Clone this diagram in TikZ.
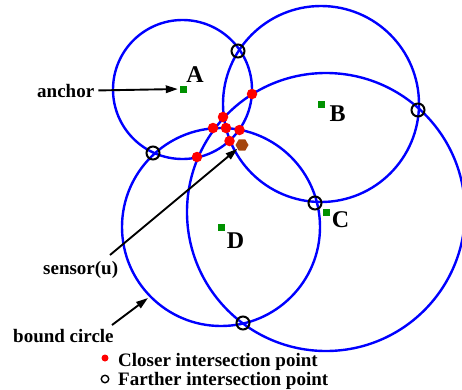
\documentclass[tikz,border=0pt]{standalone}
\usepackage{fontspec}
\setmainfont{Liberation Serif}
\usetikzlibrary{arrows.meta,shapes.geometric}
\definecolor{circblue}{RGB}{0,0,255}
\definecolor{anchgreen}{RGB}{0,145,0}
\definecolor{sensbrown}{RGB}{165,70,15}
\tikzset{
  bound/.style={draw=circblue,line width=2.4pt},
  farpt/.style={draw=black,line width=2pt,circle,minimum size=13pt,inner sep=0pt},
  closept/.style={fill=red,circle,minimum size=10.5pt,inner sep=0pt},
  anchorsq/.style={fill=anchgreen,minimum size=7pt,inner sep=0pt},
  letter/.style={font=\fontsize{24}{26}\selectfont\bfseries,inner sep=0pt},
  lbl/.style={font=\fontsize{19}{22}\selectfont\bfseries,inner sep=0pt},
  arr/.style={draw=black,line width=1.9pt,-{Triangle[length=12pt,width=7.5pt]}}
}
\begin{document}
\begin{tikzpicture}[x=1pt,y=-1pt]
\useasboundingbox (0,0) rectangle (462,389);
% circles
\draw[bound] (182.5,89.5) circle[radius=69.5pt];
\draw[bound] (321,104) circle[radius=98pt];
\draw[bound] (326,212) circle[radius=139pt];
\draw[bound] (221,227) circle[radius=99pt];
% anchors
\node[anchorsq] (sqA) at (183,89) {};
\node[anchorsq] (sqB) at (321,104) {};
\node[anchorsq] (sqC) at (326,212) {};
\node[anchorsq] (sqD) at (221,227) {};
\node[letter] (lA) at (195,75) {A};
\node[letter] (lB) at (337.5,114) {B};
\node[letter] (lC) at (340.5,219.5) {C};
\node[letter] (lD) at (235.5,240.5) {D};
% farther points
\node[farpt] (f1) at (238,51) {};
\node[farpt] (f2) at (153,153) {};
\node[farpt] (f3) at (418,110) {};
\node[farpt] (f4) at (315,203) {};
\node[farpt] (f5) at (243,323) {};
% closer points
\node[closept] (c1) at (252,94) {};
\node[closept] (c2) at (223,117) {};
\node[closept] (c3) at (213,128) {};
\node[closept] (c4) at (226,128) {};
\node[closept] (c5) at (239.5,130) {};
\node[closept] (c6) at (229.5,141) {};
\node[closept] (c7) at (197,157) {};
% sensor
\node[regular polygon,regular polygon sides=6,fill=sensbrown,minimum size=13pt,inner sep=0pt] (sensor) at (242,145) {};
% labels
\node[lbl,anchor=base west] (anchorlbl) at (37,97) {anchor};
\node[lbl,anchor=base west] (sensorlbl) at (43,274) {sensor(u)};
\node[lbl,anchor=base west] (boundlbl) at (13,342) {bound circle};
\coordinate (sstart) at (110,255);
\coordinate (bstart) at (112,325);
\coordinate (bend) at (148,298);
\draw[arr,shorten <=4pt,shorten >=1.5pt] (anchorlbl.east) -- (sqA.west);
\draw[arr] (sstart) -- (sensor);
\draw[arr] (bstart) -- (bend);
% legend
\node[fill=red,circle,minimum size=7pt,inner sep=0pt] (legc) at (105,358) {};
\node[draw=black,line width=1.4pt,circle,minimum size=7.5pt,inner sep=0pt] (legf) at (105,379) {};
\node[lbl,anchor=base west] (legctext) at (118,366) {Closer intersection point};
\node[lbl,anchor=base west] (legftext) at (118,385.5) {Farther intersection point};
\end{tikzpicture}
\end{document}
